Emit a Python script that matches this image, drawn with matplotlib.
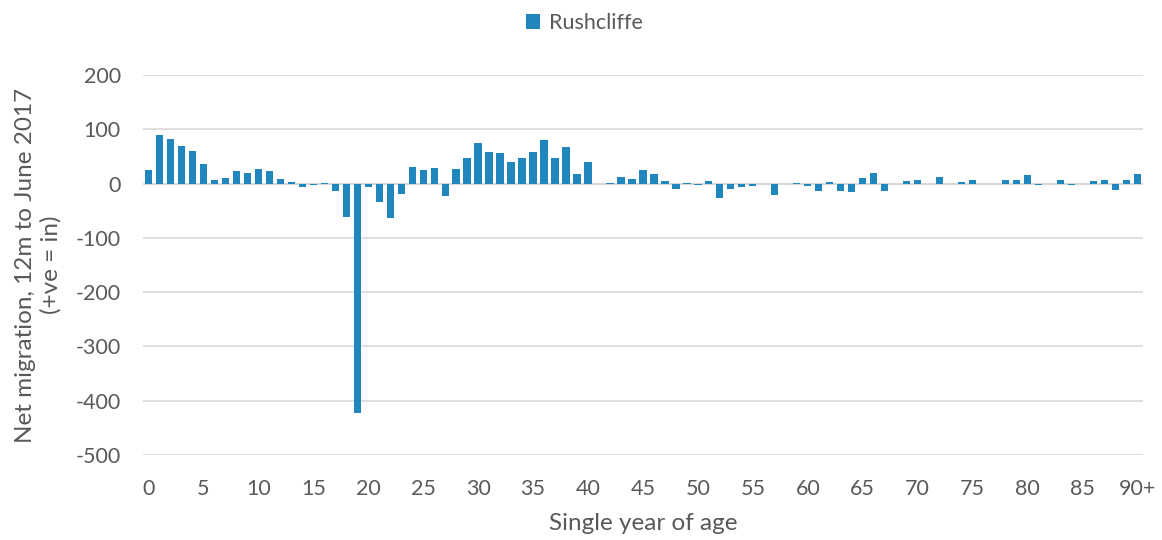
import matplotlib
matplotlib.use("Agg")
import matplotlib.pyplot as plt
import numpy as np

ages = list(range(91))
tick_positions = list(range(0, 91, 5))
tick_labels = [str(a) for a in range(0, 90, 5)] + ["90+"]

net_migration = [
    26, 89, 83, 70, 60, 37, 6, 10, 24, 20,
    27, 24, 8, 3, -7, -2, 1, -13, -61, -422,
    -6, -33, -63, -19, 31, 26, 28, -22, 27, 48,
    74, 59, 56, 40, 48, 59, 80, 47, 67, 17,
    39, -1, 1, 12, 8, 25, 18, 4, -9, 2,
    -2, 4, -26, -10, -7, -5, 0, -21, 0, 1,
    -5, -13, 3, -14, -15, 10, 19, -13, 0, 4,
    7, 0, 13, 0, 3, 7, 0, 0, 7, 6,
    15, -2, 0, 7, -3, 0, 5, 6, -12, 6,
    18,
]

series_name = "Rushcliffe"

plt.rcParams['font.family'] = ['Lato', 'DejaVu Sans']
plt.rcParams['axes.unicode_minus'] = False

fig = plt.figure(figsize=(11.62, 5.40), dpi=100)
ax = fig.add_axes([0.123, 0.1574, 0.8606, 0.7036])

bar_color = "#1f86be"
ax.bar(ages, net_migration, width=0.66, color=bar_color, label=series_name, zorder=3)

ax.set_xlim(-0.5, 90.5)
ax.set_ylim(-500, 200)
ax.set_yticks(range(-500, 201, 100))
ax.set_xticks(tick_positions)
ax.set_xticklabels(tick_labels)

ax.yaxis.grid(True, color="#d9d9d9", linewidth=1.2, zorder=0)
ax.axhline(0, color="#d9d9d9", linewidth=1.5, zorder=2)
for s in ax.spines.values():
    s.set_visible(False)
ax.tick_params(axis="both", length=0, labelsize=15.5, colors="#595959")
ax.tick_params(axis="y", pad=16)
ax.tick_params(axis="x", pad=17)

ax.set_xlabel("Single year of age", fontsize=17.5, color="#595959", labelpad=10)
ax.set_ylabel("Net migration, 12m to June 2017\n(+ve = in)", fontsize=17.5,
              color="#595959", labelpad=10, linespacing=1.25)

leg = fig.legend(loc="upper center", bbox_to_anchor=(0.503, 1.012), frameon=False,
                 fontsize=15.5, handlelength=0.65, handleheight=0.65, handletextpad=0.4)
for t in leg.get_texts():
    t.set_color("#595959")

fig.savefig("out.png", dpi=100)
